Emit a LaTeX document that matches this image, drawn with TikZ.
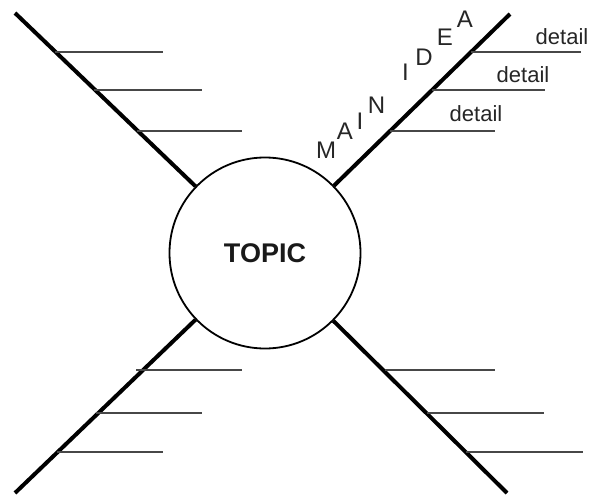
\documentclass[tikz,border=0pt]{standalone}
\usepackage{fontspec}
\setmainfont{Liberation Sans}
\begin{document}
\begin{tikzpicture}[x=1pt,y=-1pt,
  mainline/.style={line width=4pt},
  tick/.style={line width=1.6pt, black!72},
  letter/.style={inner sep=0pt, font=\fontsize{24}{24}\selectfont, text=black!85},
  detailtxt/.style={inner sep=0pt, anchor=base, font=\fontsize{22}{22}\selectfont, text=black!85},
  topicnode/.style={circle, draw, line width=1.8pt, minimum size=191pt, inner sep=0pt,
    font=\fontsize{27}{27}\selectfont\bfseries, text=black!90}]
\useasboundingbox (0,0) rectangle (590,498);
\node[topicnode] (topic) at (265,253) {TOPIC};
\coordinate (tl) at (15,13);
\coordinate (tr) at (510,14);
\coordinate (bl) at (15,493);
\coordinate (br) at (507,493);
\draw[mainline] (tl) -- (topic);
\draw[mainline] (tr) -- (topic);
\draw[mainline] (bl) -- (topic);
\draw[mainline] (br) -- (topic);
% top-left ticks
\draw[tick] (55,52) -- (163,52);
\draw[tick] (94,90) -- (202,90);
\draw[tick] (137,131) -- (242,131);
% top-right ticks
\draw[tick] (471,52) -- (581,52);
\draw[tick] (432,90) -- (545,90);
\draw[tick] (390,131) -- (495,131);
% bottom-left ticks
\draw[tick] (136,370) -- (242,370);
\draw[tick] (96,413) -- (202,413);
\draw[tick] (57,452) -- (163,452);
% bottom-right ticks
\draw[tick] (385,370) -- (495,370);
\draw[tick] (427,413) -- (544,413);
\draw[tick] (466,452) -- (583,452);
% details
\node[detailtxt] (d1) at (562,44) {detail};
\node[detailtxt] (d2) at (523,82) {detail};
\node[detailtxt] (d3) at (476,121) {detail};
% MAIN IDEA
\node[letter] (m1) at (326,150.5) {M};
\node[letter] (m2) at (345,131) {A};
\node[letter] (m3) at (360,121.5) {I};
\node[letter] (m4) at (376.5,105.5) {N};
\node[letter] (m5) at (405.5,72.5) {I};
\node[letter] (m6) at (424,57.5) {D};
\node[letter] (m7) at (445,37) {E};
\node[letter] (m8) at (465,19) {A};
\end{tikzpicture}
\end{document}
